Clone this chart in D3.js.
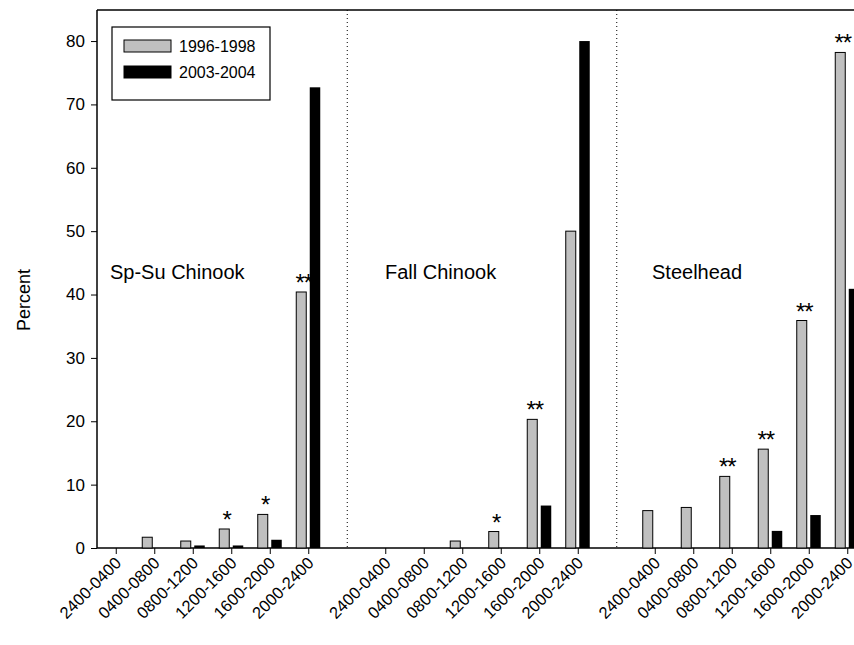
<!DOCTYPE html>
<html><head><meta charset="utf-8">
<script src="https://cdn.jsdelivr.net/npm/d3@7"></script>
<style>body{margin:0;background:#fff}</style>
</head><body><svg id="c" width="854" height="645"></svg>
<script>
const periods = ['2400-0400','0400-0800','0800-1200','1200-1600','1600-2000','2000-2400'];
const groups = ['Sp-Su Chinook','Fall Chinook','Steelhead'];
const early = [
  [0, 1.7, 1.1, 3.0, 5.3, 40.4],
  [0, 0, 1.1, 2.6, 20.3, 50.0],
  [5.9, 6.4, 11.3, 15.6, 35.9, 78.2]
];
const late = [
  [0, 0, 0.4, 0.4, 1.3, 72.7],
  [0, 0, 0, 0, 6.7, 80.0],
  [0, 0, 0, 2.7, 5.2, 40.9]
];
const stars = [
  ['', '', '', '*', '*', '**'],
  ['', '', '', '*', '**', ''],
  ['', '', '**', '**', '**', '**']
];
const yTicks = [0,10,20,30,40,50,60,70,80];

const svg = d3.select('#c');
const m = {l:97, t:10, b:548, r:867};
// 20 slots: 6 + gap + 6 + gap + 6
const x = d3.scaleBand().domain(d3.range(20)).range([m.l, m.r]);
const y = d3.scaleLinear().domain([0, 84.9]).range([m.b, m.t]);
const slotOf = (g, i) => g * 7 + i;
const cx = s => x(s) + x.bandwidth() / 2;
const font = 'Arial, "Liberation Sans", sans-serif';

// frame
svg.append('line').attr('x1', m.l).attr('x2', 854).attr('y1', m.t).attr('y2', m.t).attr('stroke', '#000').attr('stroke-width', 1.5);
// dotted separators
[6, 13].forEach(s => svg.append('line').attr('x1', cx(s)).attr('x2', cx(s)).attr('y1', m.t).attr('y2', m.b)
  .attr('stroke', '#000').attr('stroke-dasharray', '1,3').attr('stroke-width', 1));

// y axis
const ya = svg.append('g').attr('transform', `translate(${m.l},0)`)
  .call(d3.axisLeft(y).tickValues(yTicks).tickSize(6).tickPadding(6));
ya.select('.domain').attr('d', `M0,${m.b}V${m.t}`).attr('stroke-width', 1.5);
ya.selectAll('text').attr('font-size', 17).attr('font-family', font).attr('fill', '#000');

// x axis
const xa = svg.append('g').attr('transform', `translate(0,${m.b})`);
xa.append('line').attr('x1', m.l).attr('x2', 854).attr('stroke', '#000').attr('stroke-width', 1.5);
groups.forEach((g, gi) => periods.forEach((p, i) => {
  const c = cx(slotOf(gi, i));
  xa.append('line').attr('x1', c).attr('x2', c).attr('y1', 0).attr('y2', 6).attr('stroke', '#000');
  xa.append('text').attr('transform', `translate(${c + 6},${16}) rotate(-45)`)
    .attr('text-anchor', 'end').attr('font-size', 16.5).attr('font-family', font).text(p);
}));

// bars
groups.forEach((g, gi) => periods.forEach((p, i) => {
  const c = cx(slotOf(gi, i));
  const v1 = early[gi][i], v2 = late[gi][i];
  if (v1 > 0) svg.append('rect').attr('x', c - 12.5).attr('width', 10).attr('y', y(v1)).attr('height', y(0) - y(v1))
    .attr('fill', '#c0c0c0').attr('stroke', '#000').attr('stroke-width', 1);
  if (v2 > 0) svg.append('rect').attr('x', c + 1).attr('width', 10.5).attr('y', y(v2)).attr('height', y(0) - y(v2))
    .attr('fill', '#000');
  if (stars[gi][i]) svg.append('text').attr('x', c - 5).attr('y', y(v1) - 1)
    .attr('text-anchor', 'middle').attr('font-size', 24).attr('font-family', font)
    .attr('letter-spacing', -1).text(stars[gi][i]);
}));

// group labels
const labelX = [110, 385, 652];
groups.forEach((g, gi) => svg.append('text').attr('x', labelX[gi]).attr('y', 279)
  .attr('font-size', 20).attr('font-family', font).text(g));

// y label
svg.append('text').attr('transform', 'translate(30,300) rotate(-90)').attr('text-anchor', 'middle')
  .attr('font-size', 18).attr('font-family', font).text('Percent');

// legend
const lg = svg.append('g').attr('transform', 'translate(112,27)');
lg.append('rect').attr('width', 158).attr('height', 73).attr('fill', '#fff').attr('stroke', '#000').attr('stroke-width', 1.2);
[['1996-1998', '#c0c0c0'], ['2003-2004', '#000']].forEach((d, i) => {
  lg.append('rect').attr('x', 12).attr('y', 13 + i * 26).attr('width', 47).attr('height', 12)
    .attr('fill', d[1]).attr('stroke', '#000');
  lg.append('text').attr('x', 67).attr('y', 25 + i * 26).attr('font-size', 16).attr('font-family', font).text(d[0]);
});
</script></body></html>
